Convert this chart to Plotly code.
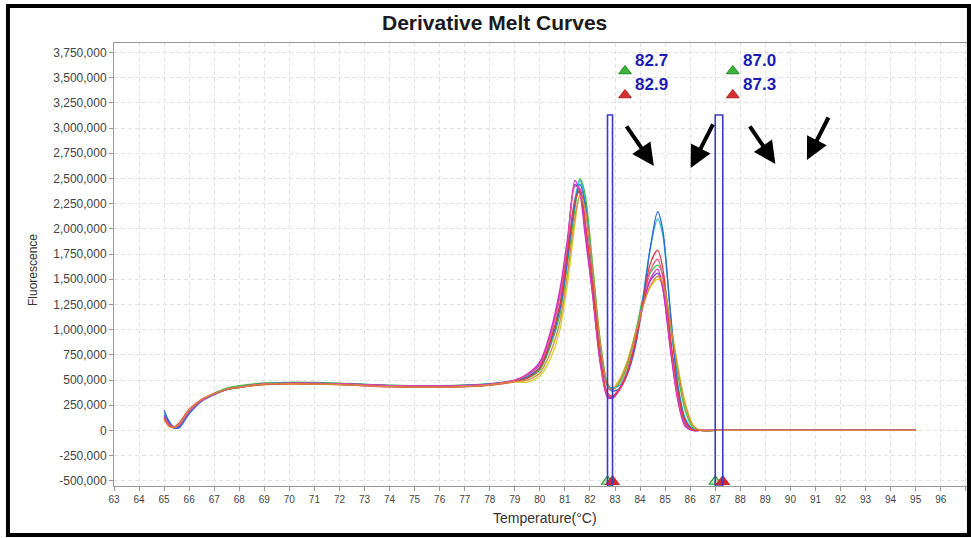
import plotly.graph_objects as go

# ---------------- data ----------------
temps = [65.0, 65.2, 65.4, 65.6, 66.0, 66.5, 67.0, 67.5, 68.0, 69.0, 70.0, 72.0, 74.0, 76.0, 78.0, 79.0,
         79.5, 80.0, 80.4, 80.8, 81.1, 81.4, 81.6, 81.8, 82.1, 82.4, 82.7, 82.9, 83.2, 83.5, 83.8, 84.1,
         84.4, 84.7, 84.9, 85.2, 85.5, 85.8, 86.1, 86.4, 87.0, 95.0]

blue = [200000, 90000, 30000, 25000, 165000, 290000, 355000, 405000, 425000, 462000, 470000, 465000, 445000, 440000, 460000, 490000,
        530000, 620000, 850000, 1200000, 1700000, 2250000, 2440000, 2250000, 1550000, 850000, 440000, 390000, 420000, 560000, 820000, 1250000,
        1800000, 2170000, 2000000, 1200000, 450000, 110000, 10000, 0, 0, 0]
cyan = [170000, 80000, 25000, 30000, 175000, 295000, 360000, 410000, 430000, 465000, 472000, 465000, 448000, 442000, 462000, 495000,
        540000, 630000, 870000, 1230000, 1740000, 2300000, 2480000, 2280000, 1580000, 870000, 450000, 420000, 450000, 600000, 870000, 1300000,
        1800000, 2100000, 1950000, 1200000, 470000, 120000, 15000, 0, 0, 0]
green = [120000, 60000, 20000, 35000, 185000, 305000, 370000, 420000, 445000, 472000, 478000, 470000, 450000, 445000, 465000, 495000,
         520000, 600000, 820000, 1150000, 1650000, 2200000, 2500000, 2350000, 1650000, 900000, 460000, 410000, 480000, 650000, 950000, 1300000,
         1560000, 1640000, 1550000, 1050000, 560000, 200000, 30000, 0, 0, 0]
yellow = [100000, 50000, 25000, 45000, 190000, 300000, 360000, 405000, 425000, 455000, 460000, 455000, 440000, 435000, 450000, 480000,
          480000, 540000, 700000, 1000000, 1450000, 2050000, 2340000, 2250000, 1650000, 920000, 470000, 420000, 520000, 700000, 960000, 1230000,
          1420000, 1500000, 1460000, 1100000, 650000, 280000, 60000, 0, 0, 0]
orange = [110000, 40000, 30000, 65000, 205000, 310000, 365000, 410000, 428000, 460000, 465000, 455000, 435000, 430000, 450000, 485000,
          500000, 570000, 760000, 1080000, 1550000, 2120000, 2330000, 2200000, 1600000, 880000, 450000, 400000, 500000, 680000, 940000, 1220000,
          1430000, 1530000, 1470000, 1080000, 620000, 250000, 50000, 0, 0, 0]
red = [120000, 45000, 35000, 75000, 210000, 310000, 365000, 408000, 428000, 455000, 462000, 455000, 432000, 428000, 448000, 485000,
       520000, 620000, 870000, 1250000, 1760000, 2280000, 2380000, 2100000, 1450000, 760000, 370000, 340000, 420000, 580000, 860000, 1250000,
       1650000, 1790000, 1620000, 950000, 400000, 90000, 5000, 0, 0, 0]
magenta = [130000, 55000, 30000, 55000, 195000, 300000, 362000, 408000, 430000, 462000, 468000, 462000, 445000, 440000, 458000, 500000,
           560000, 680000, 960000, 1400000, 1900000, 2480000, 2350000, 1950000, 1350000, 680000, 330000, 320000, 410000, 580000, 860000, 1220000,
           1500000, 1600000, 1420000, 820000, 300000, 40000, 0, 0, 0, 0]
purple = [150000, 70000, 25000, 45000, 185000, 298000, 360000, 406000, 430000, 462000, 468000, 463000, 445000, 442000, 460000, 500000,
          550000, 660000, 930000, 1350000, 1850000, 2440000, 2380000, 2000000, 1380000, 700000, 340000, 330000, 420000, 590000, 870000, 1230000,
          1480000, 1560000, 1420000, 850000, 330000, 60000, 0, 0, 0, 0]
pink = [130000, 60000, 30000, 55000, 190000, 300000, 362000, 408000, 430000, 462000, 468000, 462000, 444000, 440000, 458000, 498000,
        550000, 650000, 920000, 1330000, 1830000, 2420000, 2400000, 2050000, 1420000, 720000, 350000, 340000, 430000, 600000, 880000, 1250000,
        1580000, 1700000, 1530000, 900000, 350000, 70000, 5000, 0, 0, 0]

tm_green = [82.7, 87.0]
tm_red = [82.9, 87.3]
tm_green_labels = ["82.7", "87.0"]
tm_red_labels = ["82.9", "87.3"]

x_ticks = list(range(63, 98))
y_tick_vals = [-500000, -250000, 0, 250000, 500000, 750000, 1000000, 1250000, 1500000, 1750000, 2000000,
               2250000, 2500000, 2750000, 3000000, 3250000, 3500000, 3750000]
y_tick_text = ["-500,000", "-250,000", "0", "250,000", "500,000", "750,000", "1,000,000", "1,250,000",
               "1,500,000", "1,750,000", "2,000,000", "2,250,000", "2,500,000", "2,750,000", "3,000,000",
               "3,250,000", "3,500,000", "3,750,000"]

# ---------------- style ----------------
series = [
    ("yellow", yellow, "#d2cf2a"),
    ("green", green, "#3cc43c"),
    ("cyan", cyan, "#1fb2cf"),
    ("blue", blue, "#2f6ad6"),
    ("purple", purple, "#8a3cc8"),
    ("magenta", magenta, "#d22ac4"),
    ("pink", pink, "#e8559a"),
    ("red", red, "#e03a3a"),
    ("orange", orange, "#d8893e"),
]

x_range = [63, 97.05]
y_range = [-551000, 3844000]
plot_h_px = 443
units_per_px = (y_range[1] - y_range[0]) / plot_h_px
bracket_top = 3130000
row_y = [3566000, 3328000]
label_offset = 0.7

fig = go.Figure()

for name, vals, col in series:
    fig.add_trace(go.Scatter(x=temps, y=vals, mode="lines", name=name,
                             line=dict(color=col, width=1.3, shape="spline", smoothing=0.8),
                             showlegend=False, hoverinfo="skip"))

shapes = []
for g, r in zip(tm_green, tm_red):
    shapes.append(dict(type="rect", xref="x", yref="y", x0=g, x1=r, y0=y_range[0], y1=bracket_top,
                       line=dict(color="#3a3ac4", width=1.6), fillcolor="rgba(0,0,0,0)", layer="above"))
# outer black frame
shapes.append(dict(type="rect", xref="paper", yref="paper", x0=-0.1243, x1=1.0023, y0=-0.1106, y1=1.0835,
                   line=dict(color="black", width=4), fillcolor="rgba(0,0,0,0)", layer="above"))

# bottom triangles on the axis
tri_y = y_range[0] + 4.5 * units_per_px
fig.add_trace(go.Scatter(x=tm_green, y=[tri_y] * len(tm_green), mode="markers",
                         marker=dict(symbol="triangle-up", size=11, color="rgba(60,180,60,0.35)",
                                     line=dict(color="#2a9a2a", width=1.2)),
                         cliponaxis=False, showlegend=False, hoverinfo="skip"))
fig.add_trace(go.Scatter(x=tm_red, y=[tri_y] * len(tm_red), mode="markers",
                         marker=dict(symbol="triangle-up", size=12, color="#d42a2a",
                                     line=dict(color="#d42a2a", width=1)),
                         cliponaxis=False, showlegend=False, hoverinfo="skip"))

# top label triangles
lab_x = [g + label_offset for g in tm_green]
fig.add_trace(go.Scatter(x=lab_x, y=[row_y[0]] * len(lab_x), mode="markers",
                         marker=dict(symbol="triangle-up", size=11, color="#3cb43c",
                                     line=dict(color="#1e8a1e", width=1)),
                         showlegend=False, hoverinfo="skip"))
fig.add_trace(go.Scatter(x=lab_x, y=[row_y[1]] * len(lab_x), mode="markers",
                         marker=dict(symbol="triangle-up", size=11, color="#d83030",
                                     line=dict(color="#b01e1e", width=1)),
                         showlegend=False, hoverinfo="skip"))

annotations = []
label_font = dict(family="Liberation Sans, Arial, sans-serif", size=17, color="#1c1cb4")
for xx, tg, tr in zip(lab_x, tm_green_labels, tm_red_labels):
    annotations.append(dict(x=xx, y=row_y[0], xref="x", yref="y", text="<b>%s</b>" % tg, showarrow=False,
                            xanchor="left", yanchor="middle", xshift=8, yshift=11, font=label_font))
    annotations.append(dict(x=xx, y=row_y[1], xref="x", yref="y", text="<b>%s</b>" % tr, showarrow=False,
                            xanchor="left", yanchor="middle", xshift=8, yshift=11, font=label_font))

# black arrows (head, tail)
arrows = [((84.55, 2624000), (83.42, 3031000)),
          ((86.02, 2604000), (86.94, 3051000)),
          ((89.40, 2644000), (88.34, 3031000)),
          ((90.66, 2684000), (91.55, 3120000))]
for (hx, hy), (tx, ty) in arrows:
    annotations.append(dict(x=hx, y=hy, ax=tx, ay=ty, xref="x", yref="y", axref="x", ayref="y",
                            text="", showarrow=True, arrowhead=2, arrowsize=1.1, arrowwidth=4,
                            arrowcolor="black"))

# titles
annotations.append(dict(x=(494 - 114) / 853, y=(486 - 22) / 443, xref="paper", yref="paper",
                        text="<b>Derivative Melt Curves</b>", showarrow=False, xanchor="center", yanchor="middle",
                        font=dict(family="Liberation Sans, Arial, sans-serif", size=21, color="#1a1a1a")))
annotations.append(dict(x=(545 - 114) / 853, y=(486 - 518) / 443, xref="paper", yref="paper",
                        text="Temperature(°C)", showarrow=False, xanchor="center", yanchor="middle",
                        font=dict(family="Liberation Sans, Arial, sans-serif", size=14, color="#333")))
annotations.append(dict(x=(33 - 114) / 853, y=(486 - 270) / 443, xref="paper", yref="paper",
                        text="Fluorescence", showarrow=False, textangle=-90, xanchor="center", yanchor="middle",
                        font=dict(family="Liberation Sans, Arial, sans-serif", size=12, color="#333")))

fig.update_layout(
    width=971, height=538,
    margin=dict(l=114, r=4, t=43, b=52),
    paper_bgcolor="white", plot_bgcolor="white",
    shapes=shapes, annotations=annotations,
    showlegend=False,
)
fig.update_xaxes(range=x_range, tickvals=x_ticks, ticktext=[str(v) for v in x_ticks],
                 showgrid=True, gridcolor="#e2e2e2", griddash="4px,3px", gridwidth=1,
                 showline=True, linecolor="#9a9a9a", linewidth=1, mirror=True,
                 ticks="outside", ticklen=4, tickcolor="#9a9a9a", zeroline=False,
                 tickfont=dict(family="Liberation Sans, Arial, sans-serif", size=10, color="#444"))
fig.update_yaxes(range=y_range, tickvals=y_tick_vals, ticktext=y_tick_text,
                 showgrid=True, gridcolor="#e2e2e2", griddash="4px,3px", gridwidth=1,
                 showline=True, linecolor="#9a9a9a", linewidth=1, mirror=True,
                 ticks="outside", ticklen=4, tickcolor="#9a9a9a", zeroline=False,
                 tickfont=dict(family="Liberation Sans, Arial, sans-serif", size=12, color="#444"))

fig.write_html("out.html", config={"displayModeBar": False},
               post_script="document.body.style.margin='0';document.body.style.overflow='hidden';")
